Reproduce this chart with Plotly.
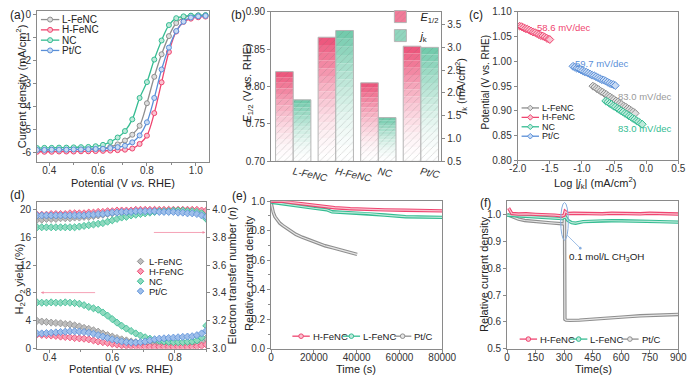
import plotly.graph_objects as go

W, H = 700, 382
FONT = "Liberation Sans, Arial, sans-serif"
RED, GRAY, GREEN, BLUE = '#ef4570', '#8f8f8f', '#35bc92', '#5a8fd8'
RED_L, GRAY_L, GREEN_L, BLUE_L = '#f9c3d0', '#dedede', '#bfeadb', '#c9dbf4'

# ---------------- (a) LSV ----------------
lsv_potential = [0.35, 0.38, 0.41, 0.44, 0.47, 0.50, 0.53, 0.56, 0.59, 0.62, 0.65, 0.68,
                 0.71, 0.74, 0.77, 0.80, 0.83, 0.86, 0.89, 0.92, 0.95, 0.98, 1.01, 1.04]
lsv_L_FeNC = [-5.88, -5.88, -5.87, -5.87, -5.86, -5.86, -5.85, -5.85, -5.84, -5.81, -5.75, -5.64,
              -5.47, -5.22, -4.83, -3.85, -2.70, -1.72, -0.93, -0.36, -0.13, -0.05, -0.03, -0.02]
lsv_H_FeNC = [-5.96, -5.96, -5.96, -5.95, -5.95, -5.95, -5.94, -5.94, -5.93, -5.92, -5.91, -5.89,
              -5.87, -5.82, -5.62, -5.26, -4.28, -2.94, -1.62, -0.73, -0.31, -0.17, -0.11, -0.08]
lsv_NC = [-5.80, -5.79, -5.79, -5.78, -5.78, -5.77, -5.76, -5.75, -5.72, -5.66, -5.53, -5.34,
          -5.06, -4.55, -3.62, -2.93, -1.95, -1.12, -0.45, -0.15, -0.07, -0.04, -0.03, -0.02]
lsv_PtC = [-5.88, -5.88, -5.87, -5.87, -5.87, -5.86, -5.86, -5.85, -5.84, -5.83, -5.80, -5.76,
           -5.70, -5.55, -5.25, -4.68, -3.62, -2.38, -1.43, -0.71, -0.30, -0.12, -0.07, -0.05]
a_yticks = [0, -1, -2, -3, -4, -5, -6]
a_yticktext = ['0', '-1', '-2', '-3', '-4', '-5', '-6']

# ---------------- (b) bars ----------------
catalysts = ['L-FeNC', 'H-FeNC', 'NC', 'Pt/C']
e_half = [0.820, 0.866, 0.805, 0.854]
j_k = [1.85, 3.37, 1.46, 3.00]

# ---------------- (c) Tafel ----------------
tafel_H_x = [-1.97, -1.94, -1.91, -1.88, -1.85, -1.82, -1.79, -1.76, -1.73, -1.70, -1.67, -1.64,
             -1.61, -1.58, -1.55, -1.52, -1.50]
tafel_H_y = [1.071, 1.070, 1.068, 1.066, 1.065, 1.063, 1.061, 1.059, 1.058, 1.056, 1.054, 1.052,
             1.051, 1.049, 1.047, 1.045, 1.044]
tafel_P_x = [-1.14, -1.11, -1.08, -1.05, -1.02, -0.99, -0.96, -0.93, -0.90, -0.87, -0.84, -0.81,
             -0.78, -0.75, -0.72, -0.69, -0.66, -0.63, -0.60, -0.57, -0.54, -0.51, -0.48]
tafel_P_y = [0.990, 0.988, 0.986, 0.985, 0.983, 0.981, 0.979, 0.978, 0.976, 0.974, 0.972, 0.971,
             0.969, 0.967, 0.965, 0.963, 0.962, 0.960, 0.958, 0.956, 0.954, 0.953, 0.951]
tafel_L_x = [-0.83, -0.80, -0.77, -0.74, -0.71, -0.68, -0.65, -0.62, -0.59, -0.56, -0.53, -0.50,
             -0.47, -0.44, -0.41, -0.38, -0.35, -0.32, -0.29, -0.26, -0.23, -0.20, -0.17]
tafel_L_y = [0.950, 0.948, 0.945, 0.943, 0.940, 0.938, 0.935, 0.933, 0.930, 0.928, 0.925, 0.923,
             0.920, 0.918, 0.915, 0.913, 0.910, 0.908, 0.905, 0.903, 0.900, 0.898, 0.895]
tafel_N_x = [-0.63, -0.60, -0.57, -0.54, -0.51, -0.48, -0.45, -0.42, -0.39, -0.36, -0.33, -0.30,
             -0.27, -0.24, -0.21, -0.18, -0.15, -0.12, -0.09, -0.06]
tafel_N_y = [0.920, 0.918, 0.915, 0.913, 0.910, 0.908, 0.905, 0.903, 0.900, 0.898, 0.895, 0.893,
             0.890, 0.888, 0.885, 0.883, 0.880, 0.878, 0.875, 0.873]
tafel_slopes = ['58.6 mV/dec', '59.7 mV/dec', '83.0 mV/dec', '83.0 mV/dec']
c_xticks = [-2.0, -1.5, -1.0, -0.5, 0.0, 0.5]
c_xticktext = ['-2.0', '-1.5', '-1.0', '-0.5', '0.0', '0.5']

# ---------------- (d) RRDE ----------------
rrde_potential = [0.360, 0.375, 0.390, 0.405, 0.420, 0.435, 0.450, 0.465, 0.480, 0.495,
                  0.510, 0.525, 0.540, 0.555, 0.570, 0.585, 0.600, 0.615, 0.630, 0.645,
                  0.660, 0.675, 0.690, 0.705, 0.720, 0.735, 0.750, 0.765, 0.780, 0.795,
                  0.810, 0.825, 0.840, 0.855, 0.870, 0.885, 0.900]
h2o2_L = [4.0, 3.9, 3.85, 3.75, 3.7, 3.65, 3.55, 3.5, 3.35, 3.2,
          3.0, 2.85, 2.65, 2.45, 2.2, 1.95, 1.75, 1.55, 1.35, 1.2,
          1.05, 0.95, 0.85, 0.8, 0.75, 0.7, 0.65, 0.65, 0.6, 0.6,
          0.6, 0.6, 0.65, 0.65, 0.8, 1.1, 1.5]
h2o2_H = [2.05, 2.0, 1.95, 1.9, 1.85, 1.75, 1.7, 1.65, 1.55, 1.5,
          1.45, 1.35, 1.2, 1.05, 0.95, 0.85, 0.7, 0.6, 0.5, 0.45,
          0.4, 0.35, 0.35, 0.3, 0.3, 0.3, 0.3, 0.3, 0.3, 0.3,
          0.3, 0.3, 0.3, 0.3, 0.35, 0.45, 0.6]
h2o2_N = [6.65, 6.6, 6.6, 6.65, 6.6, 6.6, 6.65, 6.6, 6.55, 6.45,
          6.25, 6.0, 5.8, 5.6, 5.2, 4.75, 4.25, 3.75, 3.3, 2.9,
          2.55, 2.2, 1.9, 1.65, 1.45, 1.3, 1.15, 1.05, 1.0, 0.95,
          0.95, 0.95, 1.0, 1.05, 1.2, 1.6, 3.3]
h2o2_P = [2.2, 2.2, 2.25, 2.3, 2.35, 2.4, 2.45, 2.5, 2.5, 2.45,
          2.4, 2.3, 2.15, 1.95, 1.75, 1.55, 1.35, 1.2, 1.05, 0.95,
          0.9, 0.9, 0.95, 1.05, 1.2, 1.35, 1.45, 1.5, 1.55, 1.6,
          1.65, 1.7, 1.75, 1.8, 1.95, 2.2, 2.6]
n_L = [3.925, 3.925, 3.93, 3.93, 3.93, 3.935, 3.935, 3.935, 3.94, 3.94,
       3.945, 3.945, 3.95, 3.955, 3.96, 3.965, 3.97, 3.975, 3.975, 3.98,
       3.98, 3.985, 3.985, 3.985, 3.99, 3.99, 3.99, 3.99, 3.99, 3.99,
       3.99, 3.99, 3.99, 3.99, 3.985, 3.98, 3.97]
n_H = [3.96, 3.96, 3.96, 3.965, 3.965, 3.965, 3.965, 3.97, 3.97, 3.97,
       3.97, 3.975, 3.975, 3.98, 3.98, 3.985, 3.985, 3.99, 3.99, 3.99,
       3.99, 3.995, 3.995, 3.995, 3.995, 3.995, 3.995, 3.995, 3.995, 3.995,
       3.995, 3.995, 3.995, 3.995, 3.995, 3.99, 3.99]
n_N = [3.87, 3.87, 3.87, 3.87, 3.87, 3.87, 3.87, 3.87, 3.87, 3.875,
       3.88, 3.885, 3.89, 3.895, 3.90, 3.91, 3.92, 3.93, 3.94, 3.945,
       3.955, 3.96, 3.965, 3.97, 3.975, 3.98, 3.985, 3.985, 3.985, 3.99,
       3.99, 3.99, 3.985, 3.985, 3.98, 3.97, 3.93]
n_P = [3.955, 3.955, 3.955, 3.955, 3.955, 3.955, 3.955, 3.955, 3.955, 3.955,
       3.955, 3.96, 3.96, 3.965, 3.965, 3.97, 3.975, 3.975, 3.98, 3.98,
       3.98, 3.985, 3.985, 3.985, 3.985, 3.985, 3.98, 3.98, 3.98, 3.98,
       3.975, 3.975, 3.97, 3.97, 3.965, 3.955, 3.945]

# ---------------- (e) stability ----------------
stab_H_t = [0, 5000, 10000, 17600, 24000, 29700, 37000, 44700, 53000, 62800, 71000, 80000]
stab_H_v = [1.0, 1.0, 0.99, 0.976, 0.965, 0.956, 0.949, 0.943, 0.941, 0.939, 0.937, 0.934]
stab_L_t = [0, 6000, 13100, 20000, 26000, 28500, 36000, 44700, 53000, 62800, 70000, 80000]
stab_L_v = [0.993, 0.98, 0.965, 0.952, 0.942, 0.928, 0.922, 0.917, 0.906, 0.895, 0.893, 0.89]
stab_P_t = [0, 300, 1000, 1800, 3000, 4070, 5500, 7100, 9000, 11600, 14500, 17600, 21000,
            25200, 29000, 32700, 36500, 40200]
stab_P_v = [0.99, 0.96, 0.925, 0.895, 0.87, 0.851, 0.835, 0.818, 0.797, 0.775, 0.756, 0.738,
            0.718, 0.698, 0.684, 0.670, 0.655, 0.640]

# ---------------- (f) methanol ----------------
meoh_H_t = [8, 25, 60, 100, 150, 200, 250, 290, 300, 305, 320, 350, 400, 450, 500, 550, 600,
            650, 700, 750, 800, 850, 900]
meoh_H_v = [1.024, 1.004, 1.002, 1.003, 1.001, 1.0, 0.998, 0.995, 0.998, 1.012, 1.004, 1.005,
            1.004, 1.005, 1.003, 1.005, 1.004, 1.005, 1.003, 1.005, 1.004, 1.004, 1.002]
meoh_L_t = [0, 50, 100, 150, 200, 250, 290, 305, 320, 340, 360, 400, 450, 500, 550, 600, 650,
            700, 750, 800, 850, 900]
meoh_L_v = [0.998, 0.996, 0.993, 0.991, 0.989, 0.987, 0.985, 0.994, 0.978, 0.97, 0.968, 0.974,
            0.976, 0.977, 0.977, 0.977, 0.977, 0.976, 0.975, 0.974, 0.973, 0.972]
meoh_P_t = [0, 30, 60, 93, 130, 178, 230, 290, 300, 302, 304, 310, 330, 380, 430, 482, 550,
            620, 700, 780, 850, 900]
meoh_P_v = [1.0, 0.99, 0.983, 0.978, 0.975, 0.972, 0.969, 0.966, 0.965, 1.005, 0.61, 0.607,
            0.606, 0.607, 0.609, 0.611, 0.615, 0.619, 0.623, 0.626, 0.628, 0.628]


# ================= layout helpers =================
def dom_x(l, r):
    return [l / W, r / W]


def dom_y(t, b):
    return [1 - b / H, 1 - t / H]


LINEC = '#8a8a8a'
TICKF = dict(size=10, color='#333', family=FONT)


def axis(**kw):
    d = dict(showline=True, linecolor=LINEC, linewidth=1, mirror=True, ticks='outside',
             ticklen=3, tickcolor=LINEC, tickfont=TICKF, showgrid=False, zeroline=False)
    d.update(kw)
    return d


def xaxis(**kw):
    return axis(ticklabelstandoff=-4, **kw)


fig = go.Figure()

# ---- (a)
series_a = [('L-FeNC', lsv_L_FeNC, GRAY, GRAY_L), ('H-FeNC', lsv_H_FeNC, RED, RED_L),
            ('NC', lsv_NC, GREEN, GREEN_L), ('Pt/C', lsv_PtC, BLUE, BLUE_L)]
for name, ys, c, cl in series_a:
    fig.add_trace(go.Scatter(x=lsv_potential, y=ys, name=name, mode='lines+markers',
                             line=dict(color=c, width=1.3, shape='spline'),
                             marker=dict(symbol='circle', size=5, color=cl,
                                         line=dict(color=c, width=1)),
                             xaxis='x', yaxis='y', showlegend=False))


# ---- (b) gradient hatched bars
def hex2rgb(h):
    return int(h[1:3], 16), int(h[3:5], 16), int(h[5:7], 16)


def grad(c, f):
    r, g, b = hex2rgb(c)
    return 'rgb(%d,%d,%d)' % (round(255 + (r - 255) * f), round(255 + (g - 255) * f),
                              round(255 + (b - 255) * f))


BAR_PINK, BAR_GREEN = '#ec4f77', '#6cc8a8'
xpos = list(range(len(catalysts)))
NSEG = 16
E_BASE, J_BASE = 0.70, 0.5
bw = 0.415
PAT = dict(shape='/', fgcolor='rgba(110,110,110,0.55)', size=5, solidity=0.15)
for vals, base0, col, yax, off in [(e_half, E_BASE, BAR_PINK, 'y2', -bw),
                                   (j_k, J_BASE, BAR_GREEN, 'y3', 0.0)]:
    for k in range(NSEG):
        f = ((k + 0.5) / NSEG) ** 1.6
        fig.add_trace(go.Bar(x=xpos, y=[(v - base0) / NSEG for v in vals],
                             base=[base0 + (v - base0) * k / NSEG for v in vals],
                             width=bw, offset=off, xaxis='x2', yaxis=yax, showlegend=False,
                             marker=dict(color=grad(col, f), line=dict(width=0), pattern=PAT),
                             hoverinfo='skip'))
    fig.add_trace(go.Bar(x=xpos, y=[v - base0 for v in vals], base=[base0] * len(vals),
                         width=bw, offset=off, xaxis='x2', yaxis=yax, showlegend=False,
                         marker=dict(color='rgba(0,0,0,0)', line=dict(color='#b5b5b5', width=1))))
for nm, col in [('<i>E</i><sub>1/2</sub>', BAR_PINK), ('<i>j</i><sub>k</sub>', BAR_GREEN)]:
    fig.add_trace(go.Bar(x=[None], y=[None], name=nm, xaxis='x2', yaxis='y2', legend='legend',
                         marker=dict(color=grad(col, 0.75), line=dict(color='#b5b5b5', width=1),
                                     pattern=PAT)))

# ---- (c)
series_c = [('L-FeNC', tafel_L_x, tafel_L_y, GRAY, GRAY_L), ('H-FeNC', tafel_H_x, tafel_H_y, RED, RED_L),
            ('NC', tafel_N_x, tafel_N_y, GREEN, GREEN_L), ('Pt/C', tafel_P_x, tafel_P_y, BLUE, BLUE_L)]
for name, xs, ys, c, cl in series_c:
    fig.add_trace(go.Scatter(x=xs, y=ys, name=name, mode='lines+markers',
                             line=dict(color=c, width=1.2),
                             marker=dict(symbol='diamond', size=6, color=cl,
                                         line=dict(color=c, width=1)),
                             xaxis='x4', yaxis='y4', showlegend=False))

# ---- (d)
series_d = [('L-FeNC', h2o2_L, n_L, GRAY, '#bdbdbd'), ('H-FeNC', h2o2_H, n_H, RED, '#f7a0b5'),
            ('NC', h2o2_N, n_N, GREEN, '#8fd9bf'), ('Pt/C', h2o2_P, n_P, BLUE, '#9fbfea')]
for name, hy, ny, c, cl in series_d:
    mk = dict(symbol='diamond', size=5.5, color=cl, line=dict(color=c, width=0.8))
    fig.add_trace(go.Scatter(x=rrde_potential, y=hy, name=name, mode='markers', marker=mk,
                             xaxis='x5', yaxis='y5', showlegend=False))
    fig.add_trace(go.Scatter(x=rrde_potential, y=ny, name=name, mode='markers', marker=mk,
                             xaxis='x5', yaxis='y6', showlegend=False))


# ---- (e) and (f)
def band(xs, ys, c, cl, xa, ya):
    fig.add_trace(go.Scatter(x=xs, y=ys, mode='lines', line=dict(color=c, width=3.4),
                             xaxis=xa, yaxis=ya, showlegend=False, hoverinfo='skip'))
    fig.add_trace(go.Scatter(x=xs, y=ys, mode='lines', line=dict(color=cl, width=1.2),
                             xaxis=xa, yaxis=ya, showlegend=False, hoverinfo='skip'))


for xs, ys, c, cl in [(stab_P_t, stab_P_v, GRAY, '#e6e6e6'), (stab_L_t, stab_L_v, GREEN, GREEN_L),
                      (stab_H_t, stab_H_v, RED, RED_L)]:
    band(xs, ys, c, cl, 'x7', 'y7')
for xs, ys, c, cl in [(meoh_P_t, meoh_P_v, GRAY, '#e6e6e6'), (meoh_L_t, meoh_L_v, GREEN, GREEN_L),
                      (meoh_H_t, meoh_H_v, RED, RED_L)]:
    band(xs, ys, c, cl, 'x8', 'y8')

# ================= layout =================
MINOR = dict(ticks='outside', ticklen=2, tickcolor=LINEC)
lay = dict(
    width=W, height=H, margin=dict(l=0, r=0, t=0, b=0), paper_bgcolor='white',
    plot_bgcolor='white', font=dict(family=FONT, color='#222'), barmode='overlay',
    # (a)
    xaxis=xaxis(domain=dom_x(29, 207), anchor='y', range=[0.35, 1.055], tickvals=[0.4, 0.6, 0.8, 1.0],
                ticktext=['0.4', '0.6', '0.8', '1.0'], minor=dict(MINOR, dtick=0.1)),
    yaxis=axis(domain=dom_y(6, 162), anchor='x', range=[-6.42, 0.17], tickvals=a_yticks,
               ticktext=a_yticktext),
    # (b)
    xaxis2=axis(domain=dom_x(271, 447), anchor='y2', range=[-0.52, 3.48], tickvals=xpos,
                ticktext=['<i>%s</i>' % c for c in catalysts], tickangle=12, ticks=''),
    yaxis2=axis(domain=dom_y(7, 161), anchor='x2', range=[0.70, 0.90], dtick=0.05, tickformat='.2f',
                mirror=False),
    yaxis3=axis(overlaying='y2', anchor='x2', side='right', range=[0.5, 3.78], dtick=0.5,
                tickformat='.1f', mirror=False),
    # (c)
    xaxis4=xaxis(domain=dom_x(526, 692), anchor='y4', range=[-2.0, 0.5], tickvals=c_xticks,
                 ticktext=c_xticktext),
    yaxis4=axis(domain=dom_y(7, 160), anchor='x4', range=[0.80, 1.10], dtick=0.05, tickformat='.2f'),
    # (d)
    xaxis5=xaxis(domain=dom_x(29, 204), anchor='y5', range=[0.36, 0.90], dtick=0.2, tickformat='.1f',
                 minor=dict(MINOR, dtick=0.1)),
    yaxis5=axis(domain=dom_y(203, 354), anchor='x5', range=[0, 21], dtick=4, mirror=False),
    yaxis6=axis(overlaying='y5', anchor='x5', side='right', range=[3.0, 4.05], dtick=0.2,
                tickformat='.1f', mirror=False),
    # (e)
    xaxis7=xaxis(domain=dom_x(271, 448), anchor='y7', range=[0, 80000], dtick=20000, tickformat='d'),
    yaxis7=axis(domain=dom_y(202, 354), anchor='x7', range=[0, 1.0], dtick=0.2, tickformat='.1f',
                minor=dict(MINOR, dtick=0.1)),
    # (f)
    xaxis8=xaxis(domain=dom_x(515, 692), anchor='y8', range=[0, 900], dtick=150),
    yaxis8=axis(domain=dom_y(202, 354), anchor='x8', range=[0.5, 1.05], dtick=0.1, tickformat='.1f'),
    legend=dict(x=384 / W, y=1 + 3 / H, xanchor='left', yanchor='top', bgcolor='rgba(0,0,0,0)',
                font=dict(size=11, family=FONT, color='#222')),
)
fig.update_layout(**lay)


# ---- axis titles placed where the reference has them
def title(text, x, y, vertical=False, fs=11):
    fig.add_annotation(text=text, x=x / W, y=1 - y / H, xref='paper', yref='paper', showarrow=False,
                       textangle=-90 if vertical else 0, xanchor='center', yanchor='middle',
                       borderpad=0, font=dict(size=fs, family=FONT, color='#222'))


title('Current density (mA/cm<sup>2</sup>)', 12, 84, True)
title('Potential (V <i>vs.</i> RHE)', 118, 183)
title('<i>E</i><sub>1/2</sub> (V <i>vs.</i> RHE)', 247, 80, True)
title('<i>j</i><sub>k</sub> (mA/cm<sup>2</sup>)', 467, 84, True)
title('Potential (V vs. RHE)', 493, 80, True, 10)
title('Log |<i>j</i><sub>k</sub>| (mA/cm<sup>2</sup>)', 606, 183)
title('H<sub>2</sub>O<sub>2</sub> yield (%)', 11, 282, True)
title('Electron transfer number (<i>n</i>)', 231, 278, True)
title('Potential (V <i>vs.</i> RHE)', 116, 375)
title('Relative current density', 248, 276, True)
title('Time (s)', 359, 375)
title('Relative current density', 491, 277, True)
title('Time(s)', 604, 375)


# ---- hand-placed legends (compact, as in the reference)
def leg_item(x0, y, name, color, fill, symbol='circle', line_len=19, with_line=True, ms=2.7, fs=10):
    yy = 1 - y / H
    cx = x0 + line_len / 2 if with_line else x0
    if with_line:
        fig.add_shape(type='line', xref='paper', yref='paper', x0=x0 / W, x1=(x0 + line_len) / W,
                      y0=yy, y1=yy, line=dict(color=color, width=1.3))
    if symbol == 'circle':
        fig.add_shape(type='circle', xref='paper', yref='paper', xsizemode='pixel', ysizemode='pixel',
                      xanchor=cx / W, yanchor=yy, x0=-ms, x1=ms, y0=-ms, y1=ms,
                      fillcolor=fill, line=dict(color=color, width=1))
    else:
        fig.add_shape(type='path', xref='paper', yref='paper', xsizemode='pixel', ysizemode='pixel',
                      xanchor=cx / W, yanchor=yy,
                      path='M 0 %g L %g 0 L 0 %g L %g 0 Z' % (ms + 0.6, ms + 0.6, -ms - 0.6, -ms - 0.6),
                      fillcolor=fill, line=dict(color=color, width=1))
    tx = (x0 + line_len + 2) if with_line else (x0 + 8)
    fig.add_annotation(text=name, x=tx / W, y=yy, xref='paper', yref='paper', xanchor='left',
                       yanchor='middle', showarrow=False, borderpad=0,
                       font=dict(size=fs, family=FONT, color='#222'))


for i, (name, ys, c, cl) in enumerate(series_a):
    leg_item(33, 15 + i * 10.6, name, c, cl, 'circle', 19, True, 2.5, 10)
for i, (name, xs, ys, c, cl) in enumerate(series_c):
    leg_item(530, 106 + i * 9.7, name, c, cl, 'diamond', 18, True, 2.2, 9)
for i, (name, hy, ny, c, cl) in enumerate(series_d):
    leg_item(136, 264 + i * 10.2, name, c, cl, 'diamond', 0, False, 2.6, 9.5)
for lx, name, c, cl in [(293, 'H-FeNC', RED, RED_L), (345, 'L-FeNC', GREEN, GREEN_L), (398, 'Pt/C', GRAY, '#e6e6e6')]:
    leg_item(lx, 341, name, c, cl, 'circle', 18, True, 2.3, 9.5)
for lx, name, c, cl in [(528, 'H-FeNC', RED, RED_L), (580, 'L-FeNC', GREEN, GREEN_L), (633, 'Pt/C', GRAY, '#e6e6e6')]:
    leg_item(lx, 344, name, c, cl, 'circle', 18, True, 2.3, 9.5)

# panel letters
for txt, x, y in [('(a)', 0, 2), ('(b)', 229, 2), ('(c)', 475, 2), ('(d)', 0, 187), ('(e)', 230, 188),
                  ('(f)', 486, 196)]:
    fig.add_annotation(text=txt, x=x / W, y=1 - y / H, xref='paper', yref='paper', xanchor='left',
                       yanchor='top', showarrow=False, borderpad=0,
                       font=dict(size=12, family=FONT, color='#222'))

# (c) slope labels
for txt, x, y, c in [(tafel_slopes[0], -1.28, 1.068, RED), (tafel_slopes[1], -0.68, 0.996, BLUE),
                     (tafel_slopes[2], -0.02, 0.929, '#9a9a9a'), (tafel_slopes[3], -0.02, 0.865, GREEN)]:
    fig.add_annotation(text=txt, x=x, y=y, xref='x4', yref='y4', showarrow=False,
                       font=dict(size=9.5, family=FONT, color=c))

# (d) arrows
fig.add_annotation(x=0.372, y=8.05, ax=0.55, ay=8.05, xref='x5', yref='y5', axref='x5', ayref='y5',
                   text='', showarrow=True, arrowhead=2, arrowsize=0.7, arrowwidth=0.8, arrowcolor='#f28aa3')
fig.add_annotation(x=0.897, y=3.833, ax=0.728, ay=3.833, xref='x5', yref='y6', axref='x5', ayref='y6',
                   text='', showarrow=True, arrowhead=2, arrowsize=0.7, arrowwidth=0.8, arrowcolor='#f28aa3')

# (f) ellipse, pointer and label
fig.add_shape(type='circle', xref='x8', yref='y8', x0=282, x1=322, y0=0.905, y1=1.045,
              line=dict(color='#86aee0', width=1))
fig.add_annotation(x=385, y=0.875, ax=306, ay=0.93, xref='x8', yref='y8', axref='x8', ayref='y8',
                   text='', showarrow=True, arrowhead=6, arrowsize=0.8, arrowwidth=0.8, arrowcolor='#86aee0')
fig.add_annotation(text='0.1 mol/L CH<sub>3</sub>OH', x=525, y=0.842, xref='x8', yref='y8', showarrow=False,
                   font=dict(size=9.8, family=FONT, color='#222'))

fig.write_html('out.html', config={'displayModeBar': False},
               post_script="document.body.style.margin='0px';document.body.style.padding='0px';")
